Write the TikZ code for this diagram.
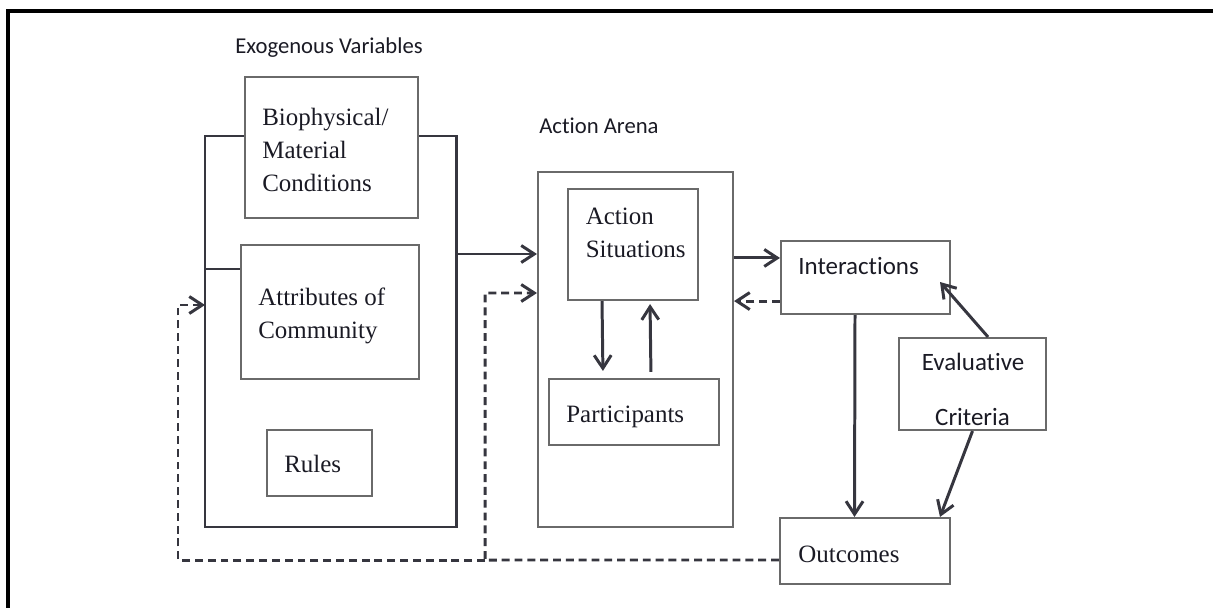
\documentclass[tikz,border=0pt]{standalone}
\usepackage{fontspec}
\setmainfont{Liberation Serif}
\newfontfamily\calib[Ligatures=NoCommon]{Carlito}
\usetikzlibrary{arrows.meta}

\definecolor{linegray}{HTML}{36363F}
\definecolor{boxgray}{HTML}{6A6A6A}
\definecolor{inkgray}{HTML}{1A1A24}

\begin{document}
\begin{tikzpicture}[
    x=0.02cm, y=-0.02cm,
    box/.style={rectangle, draw=boxgray, line width=1.2pt, inner sep=0pt},
    btext/.style={anchor=base west, inner sep=0pt, align=left, text=inkgray, font=\fontsize{14.2}{18.5}\selectfont},
    stext/.style={anchor=base, inner sep=0pt, text=inkgray, font=\calib\fontsize{14.2}{17}\selectfont},
    title/.style={anchor=base west, inner sep=0pt, text=inkgray, font=\calib\fontsize{12.9}{15}\selectfont},
    frame/.style={draw=linegray, line width=1.7pt},
    link/.style={-{Straight Barb[length=2.6mm, width=3.4mm]}, draw=linegray, line width=1.7pt},
    back/.style={link, dash pattern=on 4.5pt off 2.8pt}
]
\useasboundingbox (0,0) rectangle (1213,608);

% page frame
\draw[black, line width=2pt] (8,608) -- (8,11) -- (1213,11);

% titles
\node[title] (exo-t) at (235,54) {Exogenous Variables};
\node[title] (arena-t) at (539,133) {Action Arena};

% exogenous variables
\node[box, minimum width=3.46cm, minimum height=2.82cm] (bio) at (331.5,147.5) {};
\node[btext] (bio-t) at (262,191) {Biophysical/\\Material\\Conditions};
\node[box, minimum width=3.56cm, minimum height=2.68cm] (attr) at (330,312) {};
\node[btext] (attr-t) at (258,338) {Attributes of\\Community};
\node[box, minimum width=2.10cm, minimum height=1.32cm] (rules) at (319.5,463) {};
\node[btext] (rules-t) at (284,472) {Rules};

\coordinate (exoL) at (205,136);
\coordinate (exoR) at (456,136);
\coordinate (exoM) at (205,269);
\coordinate (exoout) at (456,254);
\draw[frame] (exoL -| bio.west) -- (exoL) -- (205,527) -- (456,527) -- (exoR) -- (exoR -| bio.east);
\draw[frame] (exoM) -- (exoM -| attr.west);

% action arena
\node[box, minimum width=3.90cm, minimum height=7.10cm] (arena) at (635.5,349.5) {};
\node[box, minimum width=2.60cm, minimum height=2.22cm] (sit) at (633,244.5) {};
\node[btext] (sit-t) at (585.5,257) {Action\\Situations};
\node[box, minimum width=3.40cm, minimum height=1.32cm] (part) at (634,412) {};
\node[btext] (part-t) at (566,422) {Participants};

% outcomes side
\node[box, minimum width=3.38cm, minimum height=1.46cm] (inter) at (865.5,277.5) {};
\node[stext, anchor=base west] (inter-t) at (798,274) {Interactions};
\node[box, minimum width=2.94cm, minimum height=1.84cm] (eval) at (972.5,384) {};
\node[stext] (eval-t1) at (973,370) {Evaluative};
\node[stext] (eval-t2) at (972.5,425) {Criteria};
\node[box, minimum width=3.40cm, minimum height=1.32cm] (out) at (865,551) {};
\node[btext] (out-t) at (798,562) {Outcomes};

% connections
\draw[link] (exoout) -- (exoout -| arena.west);
\draw[link, shorten >=0.14cm] ([xshift=-0.62cm]sit.south) -- ([xshift=-0.62cm]part.north);
\draw[link, shorten <=0.12cm, shorten >=0.06cm] ([xshift=0.34cm]part.north) -- ([xshift=0.34cm]sit.south);
\draw[link] ([yshift=-0.36cm]arena.east |- inter.north) -- ([yshift=-0.36cm]inter.north west);
\draw[back] ([yshift=0.28cm]inter.south west) -- ([yshift=0.28cm]inter.south west -| arena.east);
\draw[link] ([xshift=-0.21cm]inter.south) -- ([xshift=-0.21cm]out.north);
\coordinate (inter-in) at (940,282);
\draw[link] ([xshift=0.31cm]eval.north) -- (inter-in);
\draw[link] (eval.south) -- ([xshift=1.5cm]out.north);

% feedback
\coordinate (fb) at (485,560);
\coordinate (fbL) at (178,560);
\draw[back] ([yshift=-0.18cm]out.west) -- (fb) -- (485,293) -- (485,293 -| arena.west);
\draw[back] (fb) -- (fbL) -- (178,305) -- (205,305);

\end{tikzpicture}
\end{document}
